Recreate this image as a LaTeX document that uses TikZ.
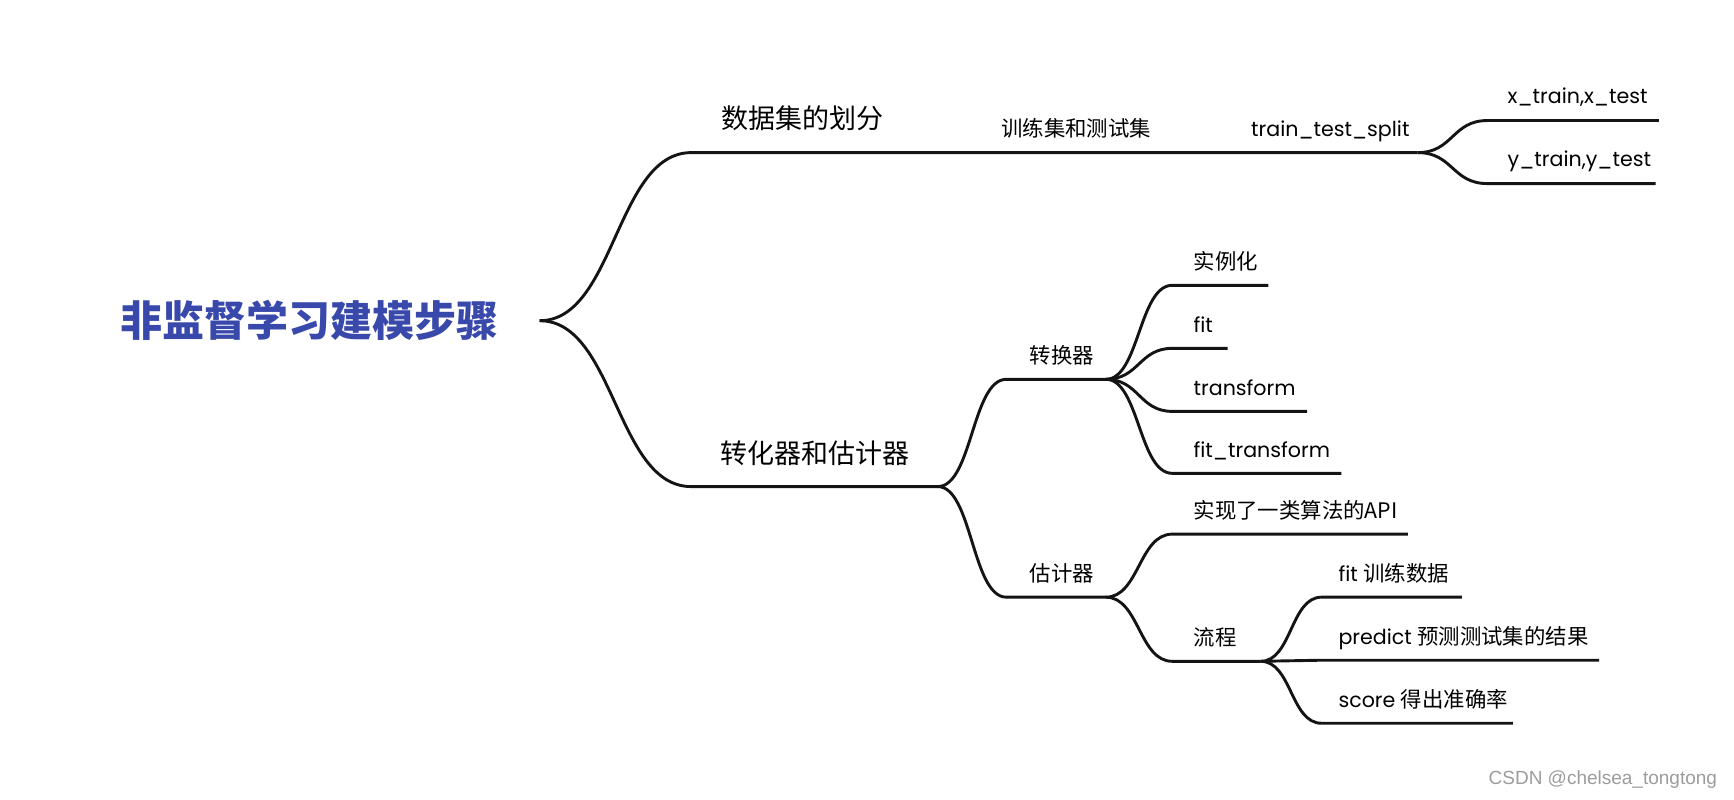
\documentclass[tikz,border=0pt]{standalone}
\usepackage{fontspec}
\setmainfont{Poppins}
\newfontfamily\cjk{Noto Sans CJK SC}
\newfontfamily\markfont{Liberation Sans}
\usepackage{xcolor}
\usetikzlibrary{positioning}

\definecolor{rootblue}{HTML}{3949AB}
\definecolor{markgray}{HTML}{9C9C9C}
\newcommand{\zhtext}[1]{{\cjk\fontsize{10.7}{13}\selectfont #1}}

\begin{document}
\begin{tikzpicture}[
  x=0.553pt, y=-0.553pt,
  branch/.style={line width=1.45pt, color=black!92},
  rootlabel/.style={anchor=east, inner sep=0pt, text=rootblue,
    font=\cjk\bfseries\fontsize{21}{24}\selectfont},
  topic/.style={anchor=base west, inner sep=0pt,
    font=\cjk\fontsize{13.5}{16}\selectfont},
  subzh/.style={anchor=base west, inner sep=0pt,
    font=\cjk\fontsize{10.7}{13}\selectfont},
  suben/.style={anchor=base west, inner sep=0pt,
    font=\fontsize{10.3}{13}\selectfont},
  watermark/.style={anchor=east, inner sep=0pt, text=markgray,
    font=\markfont\fontsize{9.5}{12}\selectfont},
]
\useasboundingbox (0,0) rectangle (1568,723);

% 根节点
\node[rootlabel] (root) at (451,290) {非监督学习建模步骤};
\coordinate (root-r) at (488,290);

% 分支1: 数据集的划分
\coordinate (ds-a) at (625,138);  \coordinate (ds-b) at (848,138);
\coordinate (tt-b) at (1050,138);
\coordinate (sp-b) at (1282,138);
\coordinate (xt-a) at (1345,109); \coordinate (xt-b) at (1500,109);
\coordinate (yt-a) at (1345,166); \coordinate (yt-b) at (1497,166);
\node[topic] (ds) at (652,116) {数据集的划分};
\node[subzh] (tt) at (905,123) {训练集和测试集};
\node[suben] (sp) at (1131,123) {train\_test\_split};
\node[suben] (xt) at (1363,94) {x\_train,x\_test};
\node[suben] (yt) at (1363,151) {y\_train,y\_test};

% 分支2: 转化器和估计器
\coordinate (te-a) at (625,440);  \coordinate (te-b) at (848,440);
\coordinate (tf-a) at (910,343);  \coordinate (tf-b) at (1000,343);
\coordinate (es-a) at (910,540);  \coordinate (es-b) at (1000,540);
\node[topic] (te) at (651,419) {转化器和估计器};
\node[subzh] (tf) at (931,329) {转换器};
\node[subzh] (es) at (931,526) {估计器};

% 转换器的子节点
\coordinate (in-a) at (1060,258); \coordinate (in-b) at (1147,258);
\coordinate (fi-a) at (1060,315); \coordinate (fi-b) at (1110,315);
\coordinate (tr-a) at (1060,372); \coordinate (tr-b) at (1182,372);
\coordinate (ft-a) at (1060,428); \coordinate (ft-b) at (1213,428);
\node[subzh] (in) at (1079,244) {实例化};
\node[suben] (fi) at (1079,301) {fit};
\node[suben] (tr) at (1079,358) {transform};
\node[suben] (ft) at (1079,414) {fit\_transform};

% 估计器的子节点
\coordinate (api-a) at (1060,483); \coordinate (api-b) at (1273,483);
\coordinate (fl-a) at (1060,598);  \coordinate (fl-b) at (1140,598);
\node[subzh] (api) at (1079,469) {实现了一类算法的API};
\node[subzh] (fl) at (1079,584) {流程};

% 流程的子节点
\coordinate (fd-a) at (1195,540); \coordinate (fd-b) at (1322,540);
\coordinate (pr-a) at (1195,597); \coordinate (pr-b) at (1446,597);
\coordinate (sc-a) at (1195,654); \coordinate (sc-b) at (1368,654);
\node[suben] (fd) at (1210,526) {fit \zhtext{训练数据}};
\node[suben] (pr) at (1210,583) {predict \zhtext{预测测试集的结果}};
\node[suben] (sc) at (1210,640) {score \zhtext{得出准确率}};

% 连线
\draw[branch] (root-r) .. controls +(68,0) and +(-68,0) .. (ds-a) -- (ds-b) -- (tt-b) -- (sp-b);
\draw[branch] (sp-b) .. controls +(32,0) and +(-32,0) .. (xt-a) -- (xt-b);
\draw[branch] (sp-b) .. controls +(32,0) and +(-32,0) .. (yt-a) -- (yt-b);

\draw[branch] (root-r) .. controls +(68,0) and +(-68,0) .. (te-a) -- (te-b);
\draw[branch] (te-b) .. controls +(31,0) and +(-31,0) .. (tf-a) -- (tf-b);
\draw[branch] (te-b) .. controls +(31,0) and +(-31,0) .. (es-a) -- (es-b);

\foreach \k in {in,fi,tr,ft}
  \draw[branch] (tf-b) .. controls +(30,0) and +(-30,0) .. (\k-a) -- (\k-b);
\foreach \k in {api,fl}
  \draw[branch] (es-b) .. controls +(30,0) and +(-30,0) .. (\k-a) -- (\k-b);
\foreach \k in {fd,pr,sc}
  \draw[branch] (fl-b) .. controls +(28,0) and +(-28,0) .. (\k-a) -- (\k-b);

% 水印
\node[watermark] (mark) at (1553,705) {CSDN @chelsea\_tongtong};

\end{tikzpicture}
\end{document}
